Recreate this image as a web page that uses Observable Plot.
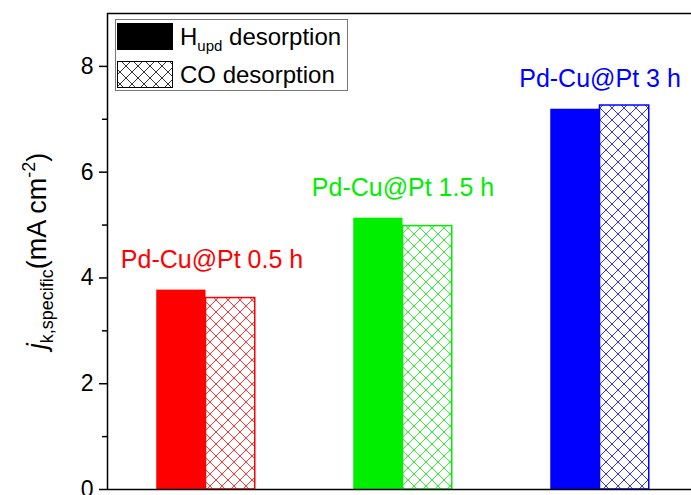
<!DOCTYPE html>
<html><head><meta charset="utf-8">
<script src="https://cdn.jsdelivr.net/npm/d3@7"></script>
<script src="https://cdn.jsdelivr.net/npm/@observablehq/plot@0.6"></script>
<style>
html,body{margin:0;padding:0;background:#fff;overflow:hidden;width:691px;height:495px}
#wrap{position:relative;width:700px;height:495px;font-family:Arial,"Liberation Sans",sans-serif}
#wrap svg{max-width:none;display:block}
#overlay{position:absolute;left:0;top:0;pointer-events:none}
</style></head><body>
<svg width="0" height="0" style="position:absolute">
  <defs id="defs"></defs>
</svg>
<div id="wrap"></div>
<script>
// ---- data ----
const groups = ["Pd-Cu@Pt 0.5 h", "Pd-Cu@Pt 1.5 h", "Pd-Cu@Pt 3 h"];
const groupColors = ["#ff0000", "#00ee00", "#0000ff"];
const hupdValues = [3.77, 5.13, 7.19];
const coValues = [3.62, 4.98, 7.26];
const seriesNames = ["Hupd desorption", "CO desorption"];
const yTicks = [0, 2, 4, 6, 8];
const yMinorTicks = [1, 3, 5, 7];
const yDomain = [0, 9];

// ---- patterns ----
const defs = document.getElementById("defs");
function addHatch(id, color) {
  const ns = "http://www.w3.org/2000/svg";
  const p = document.createElementNS(ns, "pattern");
  p.setAttribute("id", id);
  p.setAttribute("patternUnits", "userSpaceOnUse");
  p.setAttribute("width", 12); p.setAttribute("height", 12);
  const r = document.createElementNS(ns, "rect");
  r.setAttribute("width", 12); r.setAttribute("height", 12); r.setAttribute("fill", "#fff");
  const path = document.createElementNS(ns, "path");
  path.setAttribute("d", "M-3,-3L15,15M15,-3L-3,15");
  path.setAttribute("stroke", color); path.setAttribute("stroke-width", 1);
  path.setAttribute("stroke-opacity", 0.8);
  path.setAttribute("fill", "none");
  p.appendChild(r); p.appendChild(path);
  defs.appendChild(p);
}
groupColors.forEach((c, i) => addHatch("hatch" + i, c));
addHatch("hatchK", "#000");

// ---- table ----
const bars = [];
groups.forEach((g, i) => {
  bars.push({pos: i + 1, gi: i, label: g, color: groupColors[i], s: 0, value: hupdValues[i]});
  bars.push({pos: i + 1, gi: i, label: g, color: groupColors[i], s: 1, value: coValues[i]});
});
const solid = bars.filter(d => d.s === 0);
const hatched = bars.filter(d => d.s === 1);
const half = 0.25;

const chart = Plot.plot({
  width: 700, height: 495,
  marginLeft: 107, marginRight: 2, marginTop: 13, marginBottom: 6,
  style: {fontFamily: "Arial, 'Liberation Sans', sans-serif", fontSize: "23px", background: "#fff", overflow: "visible"},
  x: {domain: [0.5, 3.5], axis: null},
  y: {domain: yDomain, axis: null},
  color: {type: "identity"},
  marks: [
    Plot.rect(solid, {x1: d => d.pos - half, x2: d => d.pos, y1: () => 0, y2: "value", fill: "color"}),
    Plot.rect(hatched, {x1: d => d.pos, x2: d => d.pos + half, y1: () => 0, y2: "value",
      fill: d => `url(#hatch${d.gi})`, stroke: "color", strokeWidth: 1.5}),
    Plot.text(solid, {x: "pos", y: "value", text: "label", fill: "color", fontSize: 25,
      lineAnchor: "bottom", dy: -22}),
    Plot.axisY({ticks: yTicks, tickSize: 8, tickPadding: 6, strokeWidth: 1.5, fontSize: 23, label: null, fill: "#000"}),
    Plot.axisY({ticks: yMinorTicks, tickSize: 5, strokeWidth: 1.5, tickFormat: () => "", label: null}),
    Plot.ruleY([yDomain[0], yDomain[1]], {strokeWidth: 1.5}),
    Plot.ruleX([0.5, 3.5], {strokeWidth: 1.5})
  ]
});
document.getElementById("wrap").appendChild(chart);

// nudge first label slightly right, as in the reference
d3.select(chart).selectAll("text").filter(function() { return this.textContent === groups[0]; })
  .attr("dx", 6);

// y-axis label with sub/superscripts
const svg = d3.select(chart);
const yl = svg.append("text")
  .attr("transform", "translate(46,251) rotate(-90)")
  .attr("text-anchor", "middle")
  .attr("font-size", 27).attr("fill", "#000");
yl.append("tspan").attr("font-style", "italic").text("j");
yl.append("tspan").attr("font-size", 18).attr("dy", 7).text("k,specific");
yl.append("tspan").attr("dy", -7).text("(mA cm");
yl.append("tspan").attr("font-size", 18).attr("dy", -11).text("-2");
yl.append("tspan").attr("dy", 11).text(")");

// legend overlay
const ov = d3.select("#wrap").append("svg").attr("id", "overlay")
  .attr("width", 700).attr("height", 495)
  .style("font-family", "Arial, 'Liberation Sans', sans-serif");
ov.append("rect").attr("x", 115.5).attr("y", 19.5).attr("width", 232).attr("height", 71)
  .attr("fill", "#fff").attr("stroke", "#777").attr("stroke-width", 1);
ov.append("rect").attr("x", 117.5).attr("y", 23.5).attr("width", 55).attr("height", 26)
  .attr("fill", "#000").attr("stroke", "#000");
ov.append("rect").attr("x", 117.5).attr("y", 61.5).attr("width", 55).attr("height", 26)
  .attr("fill", "url(#hatchK)").attr("stroke", "#000");
const t1 = ov.append("text").attr("x", 180).attr("y", 45).attr("font-size", 24);
t1.append("tspan").text(seriesNames[0].slice(0, 1));
t1.append("tspan").attr("font-size", 15).attr("dy", 6).text(seriesNames[0].slice(1, 4));
t1.append("tspan").attr("dy", -6).text(seriesNames[0].slice(4));
ov.append("text").attr("x", 180).attr("y", 83).attr("font-size", 24).text(seriesNames[1]);
</script>
</body></html>
